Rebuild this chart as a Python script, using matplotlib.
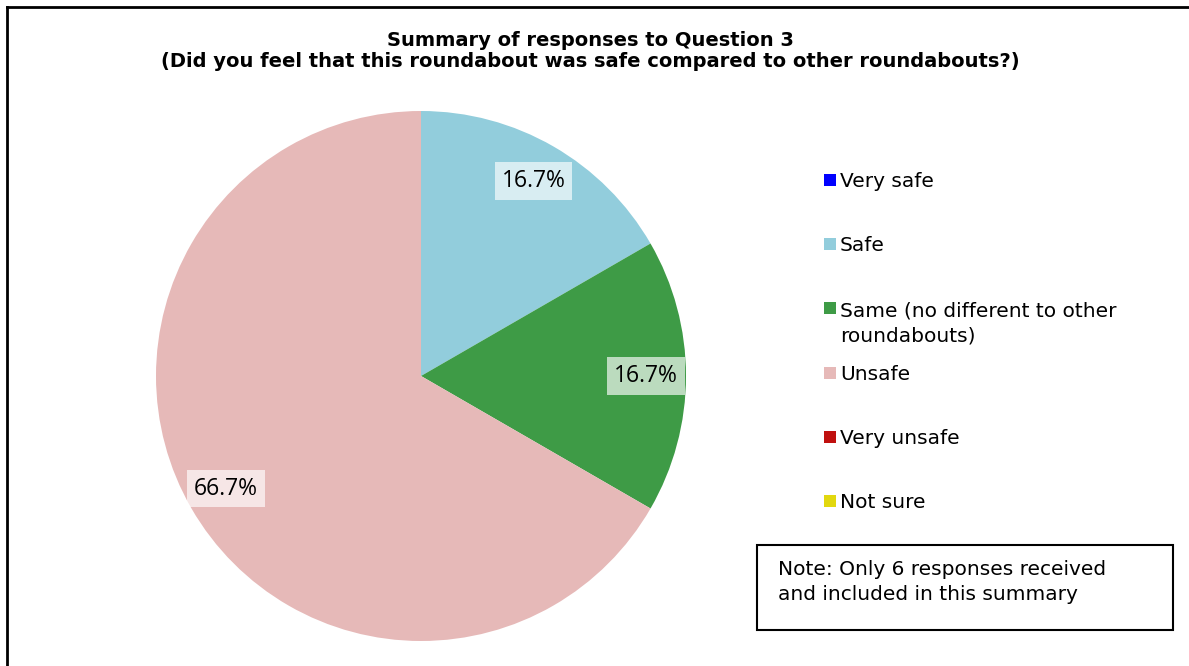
import matplotlib.pyplot as plt
from matplotlib.patches import Rectangle
from matplotlib.lines import Line2D

categorias = ['Very safe', 'Safe', 'Same (no different to other\nroundabouts)',
              'Unsafe', 'Very unsafe', 'Not sure']
respostas = [0, 1, 1, 4, 0, 0]
cores = ['#0000FF', '#92CDDC', '#3E9B46', '#E6B9B8', '#C0100F', '#E2D80E']

W, H = 1189, 666
fig = plt.figure(figsize=(W / 100, H / 100), dpi=100)

# moldura (só topo e esquerda aparecem)
fig.add_artist(Line2D([7 / W, 7 / W], [0, 1 - 7 / H], color='black', lw=2))
fig.add_artist(Line2D([7 / W, 1], [1 - 7 / H, 1 - 7 / H], color='black', lw=2))

fig.text(590 / W, 1 - 51 / H,
         'Summary of responses to Question 3\n'
         '(Did you feel that this roundabout was safe compared to other roundabouts?)',
         ha='center', va='center', fontsize=14, fontweight='bold',
         family='DejaVu Sans', linespacing=1.15)

# pizza
cx, cy, r = 421, 376, 265
ax = fig.add_axes([(cx - r) / W, (H - cy - r) / H, 2 * r / W, 2 * r / H])


def pct(v):
    return '' if v < 0.01 else f'{v:.1f}%'


wedges, textos, autotextos = ax.pie(respostas, colors=cores, startangle=90,
                                    counterclock=False, autopct=pct,
                                    pctdistance=0.85, radius=1,
                                    wedgeprops=dict(linewidth=0))
for t in autotextos:
    t.set_fontsize(16.5)
    t.set_family('Open Sans')
    t.set_bbox(dict(facecolor='white', alpha=0.65, edgecolor='none', pad=5))
ax.set_xlim(-1, 1)
ax.set_ylim(-1, 1)
ax.set_aspect('equal')
ax.axis('off')

# legenda
lh = 26
for i, (cat, cor) in enumerate(zip(categorias, cores)):
    y = 180 + 64.2 * i
    n = cat.count('\n')
    fig.add_artist(Rectangle((824 / W, 1 - (y + 6) / H), 12 / W, 12 / H,
                             facecolor=cor, edgecolor='none'))
    fig.text(840 / W, 1 - (y + 7 + lh * n) / H, cat, ha='left', va='baseline',
             fontsize=14.5, family='DejaVu Sans', linespacing=1.42)

# nota
fig.add_artist(Rectangle((757 / W, 1 - 630 / H), 416 / W, 85 / H,
                         facecolor='white', edgecolor='black', lw=1.5))
fig.text(778 / W, 1 - (574 + lh) / H, 'Note: Only 6 responses received\nand included in this summary',
         ha='left', va='baseline', fontsize=14.5, family='DejaVu Sans',
         linespacing=1.42)

fig.savefig('out.png', dpi=100)
